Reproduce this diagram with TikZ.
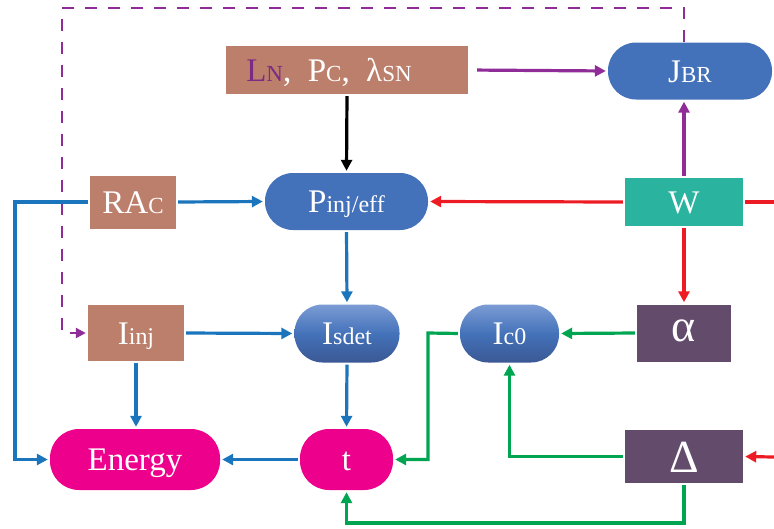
\documentclass[tikz,border=0pt]{standalone}
\usepackage{fontspec}
\setmainfont{Liberation Serif}
\usetikzlibrary{arrows.meta}

\definecolor{boxbrown}{HTML}{BC7F6B}
\definecolor{boxblue}{HTML}{4472BA}
\definecolor{boxteal}{HTML}{2AB39F}
\definecolor{boxplum}{HTML}{634B6B}
\definecolor{boxpink}{HTML}{EC008C}
\definecolor{lineblue}{HTML}{1B75BC}
\definecolor{linepurple}{HTML}{8F2C98}
\definecolor{txtpurple}{HTML}{7B2B86}
\definecolor{linered}{HTML}{ED1C24}
\definecolor{linegreen}{HTML}{00A551}
\definecolor{gradtop}{HTML}{7C9CD4}
\definecolor{gradbot}{HTML}{3A5894}

% font sizes: main letters, small caps and subscripts
\newcommand\mainsz{\fontsize{33}{33}\selectfont}
\newcommand\capsz{\fontsize{23}{23}\selectfont}
\newcommand\subsz{\fontsize{24}{24}\selectfont}
\newcommand\greeksz{\fontsize{46}{46}\selectfont}

\tikzset{
  blockbase/.style={inner sep=0pt, text=white, font=\mainsz,
    text height=22pt, text depth=0pt, align=center},
  rectblock/.style={blockbase, rectangle},
  pillblock/.style={blockbase, rectangle, rounded corners=28pt},
  gradpill/.style={pillblock, top color=gradtop, bottom color=gradbot, middle color=boxblue},
  conn/.style={line width=3.2pt, -{Triangle[length=11pt,width=11pt]},
    shorten >=2pt, shorten <=2pt},
  bluearr/.style={conn, lineblue},
  redarr/.style={conn, linered},
  greenarr/.style={conn, linegreen},
  purplearr/.style={conn, linepurple},
  blackarr/.style={conn, black},
  purpledash/.style={line width=2.3pt, linepurple, dash pattern=on 12pt off 11pt,
    -{Triangle[length=10pt,width=10pt]}, shorten >=2pt}
}

\begin{document}
\begin{tikzpicture}[x=1pt,y=-1pt]
\useasboundingbox (0,0) rectangle (774,528);

% blocks
\node[rectblock, fill=boxbrown, minimum width=242pt, minimum height=48pt] (lps) at (347,70)
  {{\color{txtpurple}L{\capsz N}}, \ P{\capsz C}, \ λ{\capsz SN}\hspace*{36pt}};
\node[pillblock, fill=boxblue, minimum width=164pt, minimum height=57pt] (jbr) at (690,71)
  {J{\capsz BR}};
\node[rectblock, fill=boxbrown, minimum width=86pt, minimum height=53pt] (rac) at (133,202)
  {RA{\capsz C}};
\node[pillblock, fill=boxblue, minimum width=163pt, minimum height=57pt] (pinj) at (346.5,201.5)
  {P{\subsz inj/eff}};
\node[rectblock, fill=boxteal, minimum width=118pt, minimum height=48pt] (w) at (684,202)
  {W};
\node[rectblock, fill=boxbrown, minimum width=96pt, minimum height=56pt] (iinj) at (136,333)
  {I{\subsz inj}};
\node[gradpill, minimum width=105pt, minimum height=58pt] (isdet) at (347,333.5)
  {I{\subsz sdet}};
\node[gradpill, minimum width=99pt, minimum height=58pt] (ic0) at (509.5,333.5)
  {I{\subsz c0}};
\node[rectblock, fill=boxplum, minimum width=94pt, minimum height=57pt,
  font=\greeksz, text height=16pt] (alpha) at (684,333) {α};
\node[pillblock, fill=boxpink, minimum width=170pt, minimum height=61pt, rounded corners=29pt] (energy) at (135,459.5)
  {Energy};
\node[pillblock, fill=boxpink, minimum width=93pt, minimum height=61pt, rounded corners=29pt] (t) at (346.5,459.5)
  {t};
\node[rectblock, fill=boxplum, minimum width=118pt, minimum height=53pt,
  font=\greeksz, text height=31pt] (delta) at (684,456.5) {Δ};

% free ends and bends
\coordinate (redinW) at (774,202);
\coordinate (redinD) at (774,457);
\coordinate (dashTR) at (684,8);
\coordinate (dashTL) at (62,8);
\coordinate (blueL) at (15,202);
\coordinate (greenM) at (428,333);
\coordinate (greenB) at (684,523);

% top row
\draw[purplearr, shorten <=9pt] (lps.east) -- (jbr.west);
\draw[blackarr] (lps.south) -- (pinj.north);
\draw[purplearr] (w.north) -- (w.north |- jbr.south);
\draw[purpledash] (w.north |- jbr.north) -- (dashTR) -- (dashTL) |- (iinj.west);

% red inputs
\draw[line width=3.2pt, linered, shorten >=2pt] (redinW) -- (w.east);
\draw[redarr, shorten <=0pt] (redinD) -- (delta.east);
\draw[redarr] (w.west) -- (pinj.east);
\draw[redarr] (w.south) -- (alpha.north);

% blue flow
\draw[bluearr] (rac.east) -- (pinj.west);
\draw[bluearr] (rac.west) -- (blueL) |- (energy.west);
\draw[bluearr] (pinj.south) -- (isdet.north);
\draw[bluearr] (iinj.east) -- (isdet.west);
\draw[bluearr] (iinj.south) -- (iinj.south |- energy.north);
\draw[bluearr] (isdet.south) -- (t.north);
\draw[bluearr] (t.west) -- (energy.east);

% green flow
\draw[greenarr] (alpha.west) -- (ic0.east);
\draw[greenarr] (ic0.west) -- (greenM) |- (t.east);
\draw[greenarr] (delta.west) -| (ic0.south);
\draw[greenarr] (delta.south) -- (greenB) -| (t.south);
\end{tikzpicture}
\end{document}
